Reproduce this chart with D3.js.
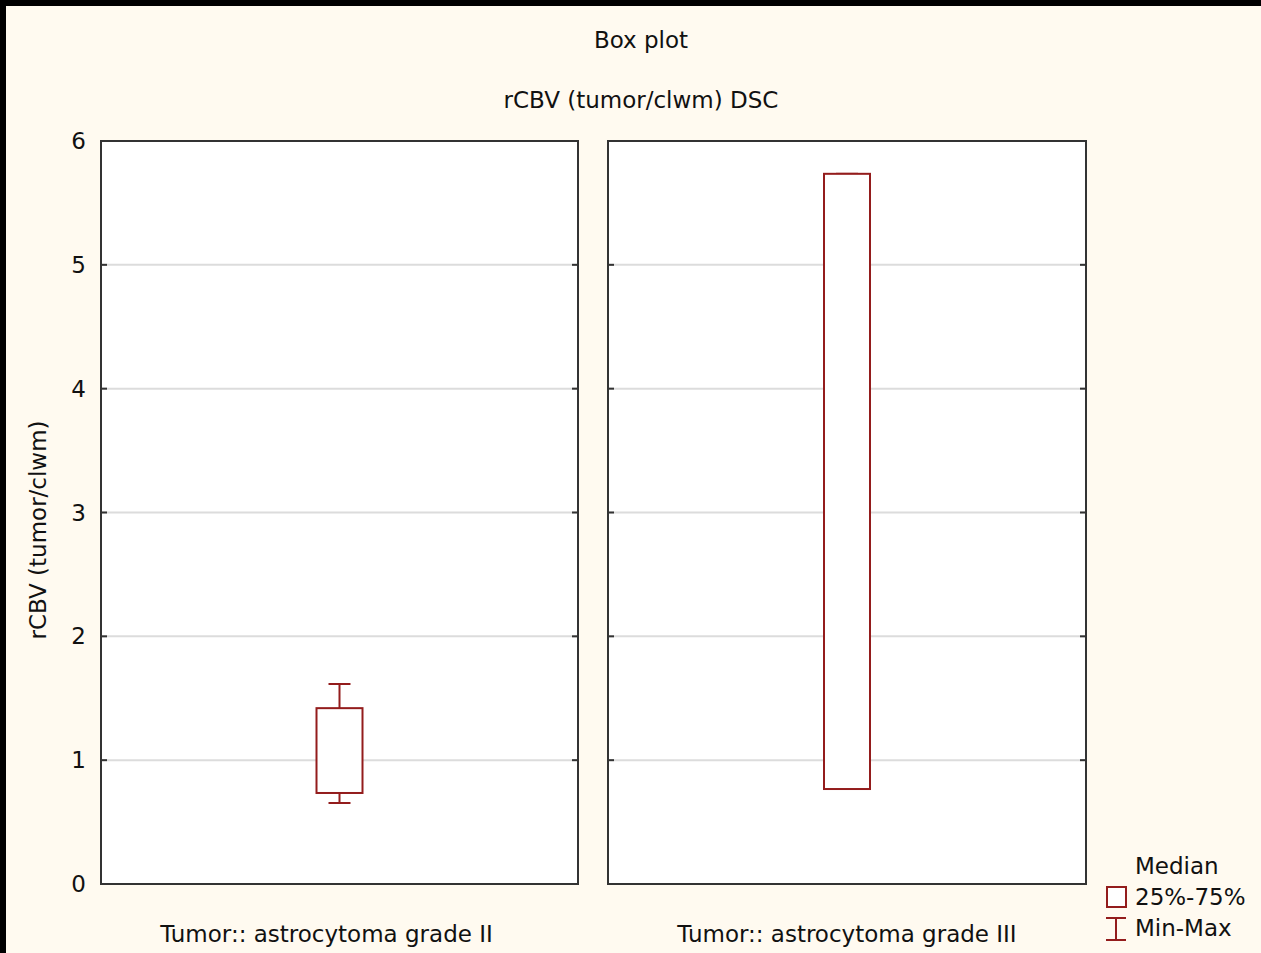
<!DOCTYPE html>
<html>
<head>
<meta charset="utf-8">
<script src="https://cdn.jsdelivr.net/npm/d3@7"></script>
<style>
  html, body { margin: 0; padding: 0; background: #000; }
  svg { display: block; }
  text { font-family: "DejaVu Sans", Verdana, sans-serif; fill: #111; }
</style>
</head>
<body>
<div id="chart"></div>
<script>
const groups = ['Tumor:: astrocytoma grade II', 'Tumor:: astrocytoma grade III'];
const q1 = [0.735, 0.767];
const q3 = [1.42, 5.735];
const minV = [0.654, 0.767];
const maxV = [1.615, 5.735];
const yTicks = [0, 1, 2, 3, 4, 5, 6];

const W = 1261, H = 953;
const boxColor = '#931c1c';

const svg = d3.select('#chart').append('svg')
    .attr('width', W)
    .attr('height', H);

// cream page with the black strip at top/left
svg.append('rect').attr('x', 6).attr('y', 6).attr('width', W - 6).attr('height', H - 6)
    .attr('fill', '#fffaf0');

const plotTop = 141, plotBottom = 884;
const y = d3.scaleLinear().domain([0, 6]).range([plotBottom, plotTop]);
const panels = [[101, 578], [608, 1086]];

svg.append('text').attr('x', 641).attr('y', 48).attr('text-anchor', 'middle')
    .style('font-size', '23px').text('Box plot');
svg.append('text').attr('x', 641).attr('y', 108).attr('text-anchor', 'middle')
    .style('font-size', '23px').text('rCBV (tumor/clwm) DSC');

svg.append('text')
    .attr('transform', `translate(46, 530) rotate(-90)`)
    .attr('text-anchor', 'middle')
    .style('font-size', '23px')
    .text('rCBV (tumor/clwm)');

// y tick labels
svg.selectAll('.ylab').data(yTicks).join('text')
    .attr('class', 'ylab')
    .attr('x', 86)
    .attr('y', d => y(d) + 8)
    .attr('text-anchor', 'end')
    .style('font-size', '23px')
    .text(d => d);

panels.forEach((p, i) => {
  const g = svg.append('g');
  const x0 = p[0], x1 = p[1];
  g.append('rect').attr('x', x0).attr('y', plotTop).attr('width', x1 - x0).attr('height', plotBottom - plotTop)
      .attr('fill', '#fff');

  g.selectAll('.grid').data(yTicks.slice(1, -1)).join('line')
      .attr('x1', x0).attr('x2', x1)
      .attr('y1', d => y(d)).attr('y2', d => y(d))
      .attr('stroke', '#dcdcdc').attr('stroke-width', 2);

  // inward ticks on both sides
  g.selectAll('.tl').data(yTicks).join('line')
      .attr('x1', x0).attr('x2', x0 + 6)
      .attr('y1', d => y(d)).attr('y2', d => y(d))
      .attr('stroke', '#333').attr('stroke-width', 2);
  g.selectAll('.tr').data(yTicks).join('line')
      .attr('x1', x1 - 6).attr('x2', x1)
      .attr('y1', d => y(d)).attr('y2', d => y(d))
      .attr('stroke', '#333').attr('stroke-width', 2);

  g.append('rect').attr('x', x0).attr('y', plotTop).attr('width', x1 - x0).attr('height', plotBottom - plotTop)
      .attr('fill', 'none').attr('stroke', '#333').attr('stroke-width', 2);

  const cx = (x0 + x1) / 2;
  const bw = 46, cw = 22;
  // whiskers
  g.append('line').attr('x1', cx).attr('x2', cx).attr('y1', y(maxV[i])).attr('y2', y(q3[i]))
      .attr('stroke', boxColor).attr('stroke-width', 2);
  g.append('line').attr('x1', cx).attr('x2', cx).attr('y1', y(q1[i])).attr('y2', y(minV[i]))
      .attr('stroke', boxColor).attr('stroke-width', 2);
  g.append('line').attr('x1', cx - cw / 2).attr('x2', cx + cw / 2).attr('y1', y(maxV[i])).attr('y2', y(maxV[i]))
      .attr('stroke', boxColor).attr('stroke-width', 2);
  g.append('line').attr('x1', cx - cw / 2).attr('x2', cx + cw / 2).attr('y1', y(minV[i])).attr('y2', y(minV[i]))
      .attr('stroke', boxColor).attr('stroke-width', 2);
  g.append('rect').attr('x', cx - bw / 2).attr('y', y(q3[i]))
      .attr('width', bw).attr('height', y(q1[i]) - y(q3[i]))
      .attr('fill', '#fff').attr('stroke', boxColor).attr('stroke-width', 2);

  // the first label sits a little left of its panel centre in the original
  svg.append('text').attr('x', i === 0 ? cx - 13 : cx).attr('y', 942).attr('text-anchor', 'middle')
      .style('font-size', '23px').text(groups[i]);
});

// legend
const lg = svg.append('g');
lg.append('text').attr('x', 1135).attr('y', 874).style('font-size', '23px').text('Median');
lg.append('rect').attr('x', 1107).attr('y', 887).attr('width', 19).attr('height', 20)
    .attr('fill', '#fff').attr('stroke', boxColor).attr('stroke-width', 2);
lg.append('text').attr('x', 1135).attr('y', 905).style('font-size', '23px').text('25%-75%');
lg.append('line').attr('x1', 1116).attr('x2', 1116).attr('y1', 918).attr('y2', 940)
    .attr('stroke', boxColor).attr('stroke-width', 2);
lg.append('line').attr('x1', 1106).attr('x2', 1126).attr('y1', 918).attr('y2', 918)
    .attr('stroke', boxColor).attr('stroke-width', 2);
lg.append('line').attr('x1', 1106).attr('x2', 1126).attr('y1', 940).attr('y2', 940)
    .attr('stroke', boxColor).attr('stroke-width', 2);
lg.append('text').attr('x', 1135).attr('y', 936).style('font-size', '23px').text('Min-Max');
</script>
</body>
</html>
